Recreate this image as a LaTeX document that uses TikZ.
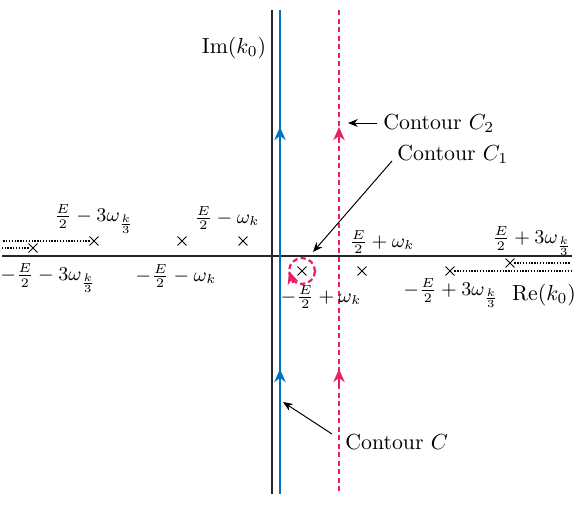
\documentclass[tikz,border=0pt]{standalone}
\usetikzlibrary{arrows.meta,shapes.misc}
\definecolor{blueC}{RGB}{0,114,190}
\definecolor{pinkC}{RGB}{233,30,99}
\begin{document}
\begin{tikzpicture}[x=0.4587pt,y=-0.4587pt,
  axisline/.style={line width=0.6pt,black!85},
  contourC/.style={line width=1.1pt,blueC},
  contourCtwo/.style={line width=1.0pt,pinkC,dash pattern=on 2.4pt off 1.5pt},
  crossmark/.style={cross out,draw,minimum size=3.6pt,inner sep=0pt,line width=0.45pt},
  cutline/.style={line width=0.8pt,dash pattern=on 0.6pt off 0.7pt},
  tipC/.style={-{Stealth[length=6pt,width=5.2pt]}},
  annot/.style={line width=0.45pt,-{Stealth[length=4.5pt,width=3.6pt]}},
  lbl/.style={inner sep=0pt},
  mlbl/.style={inner sep=0pt,font=\small}]
\useasboundingbox (0,0) rectangle (582,504);
% axes
\draw[axisline] (272,10) -- (272,494);
\draw[axisline] (2,256) -- (572,256);
\node[lbl] (im) at (234,48) {Im$(k_0)$};
\node[lbl] (re) at (544,295) {Re$(k_0)$};
% contour C
\draw[contourC] (280,10) -- (280,494);
\draw[contourC,tipC] (280,142) -- (280,127);
\draw[contourC,tipC] (280,384) -- (280,369);
% contour C2
\draw[contourCtwo] (339,10) -- (339,494);
\draw[pinkC,line width=1pt,tipC] (339,142) -- (339,127);
\draw[pinkC,line width=1pt,tipC] (339,384) -- (339,369);
% poles
\node[crossmark] (p1) at (94,241) {};
\node[crossmark] (p2) at (33,248) {};
\node[crossmark] (p3) at (182,241) {};
\node[crossmark] (p4) at (243,241) {};
\node[crossmark] (p5) at (302,271) {};
\node[crossmark] (p6) at (362,271) {};
\node[crossmark] (p7) at (450,271) {};
\node[crossmark] (p8) at (510,263) {};
% branch cuts
\coordinate (e1) at (2,241);
\coordinate (e2) at (2,248);
\coordinate (e3) at (571,271);
\coordinate (e4) at (571,263);
\draw[cutline] (p1) -- (e1);
\draw[cutline] (p2) -- (e2);
\draw[cutline] (p7) -- (e3);
\draw[cutline] (p8) -- (e4);
% contour C1
\draw[contourCtwo] (p5) circle (13);
\draw[pinkC,line width=0.8pt,tipC] (293,283) -- (289,271);
% labels
\node[mlbl] at (94,219) {$\frac{E}{2}-3\omega_{\frac{k}{3}}$};
\node[mlbl] at (227,218) {$\frac{E}{2}-\omega_{k}$};
\node[mlbl] at (48,278) {$-\frac{E}{2}-3\omega_{\frac{k}{3}}$};
\node[mlbl] at (176,276) {$-\frac{E}{2}-\omega_{k}$};
\node[mlbl] at (382,242) {$\frac{E}{2}+\omega_{k}$};
\node[mlbl] at (532,241) {$\frac{E}{2}+3\omega_{\frac{k}{3}}$};
\node[mlbl] at (451,293) {$-\frac{E}{2}+3\omega_{\frac{k}{3}}$};
\node[mlbl] at (321,297) {$-\frac{E}{2}+\omega_{k}$};
% annotations
\node[lbl,anchor=west] (c2) at (383,123) {Contour $C_2$};
\node[lbl,anchor=west] (c1) at (397,154) {Contour $C_1$};
\node[lbl,anchor=west] (c0) at (345,442) {Contour $C$};
\coordinate (c2tip) at (348,123);
\coordinate (c1start) at (392,161);
\coordinate (c1tip) at (313,252);
\coordinate (c0start) at (332,434);
\coordinate (c0tip) at (283,402);
\draw[annot] (377,123) -- (c2tip);
\draw[annot] (c1start) -- (c1tip);
\draw[annot] (c0start) -- (c0tip);
\end{tikzpicture}
\end{document}
